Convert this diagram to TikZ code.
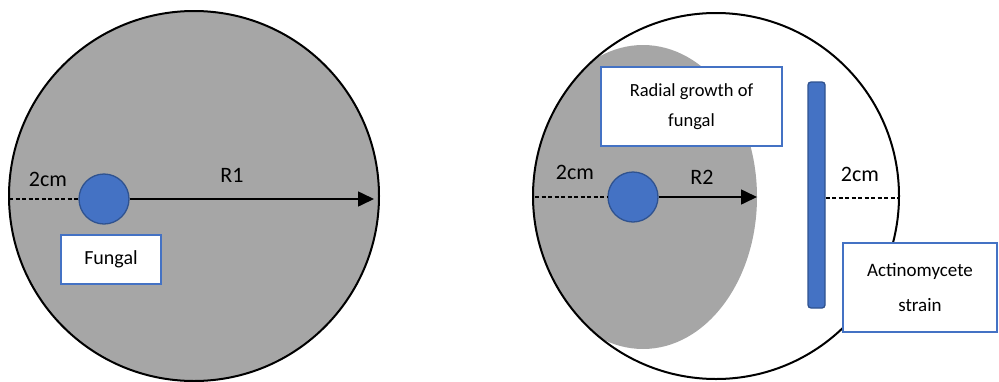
\documentclass[tikz,border=0pt]{standalone}
\usepackage{fontspec}
\setmainfont{Carlito}
\usepackage{xcolor}
\usepackage{tikz}
\usetikzlibrary{arrows.meta, positioning}

\definecolor{dishgray}{HTML}{A6A6A6}
\definecolor{plugblue}{HTML}{4472C4}
\definecolor{plugedge}{HTML}{2F528F}

\tikzset{
  dish/.style={line width=2pt},
  plug/.style={circle, fill=plugblue, draw=plugedge, line width=1.3pt, minimum size=50pt, inner sep=0pt},
  labelbox/.style={rectangle, fill=white, draw=plugblue, line width=1.8pt, align=center, inner sep=0pt},
  gap/.style={dashed, dash pattern=on 4pt off 2.5pt, line width=1.3pt},
  radius/.style={->, line width=1.6pt},
  big/.style={font=\fontsize{22}{26}\selectfont}
}

\begin{document}
\begin{tikzpicture}[x=1pt, y=-1pt, >={Triangle[length=16pt, width=15pt]}]
    \useasboundingbox (0,0) rectangle (999,381);
    \clip (0,0) rectangle (999,381);

    % control plate
    \draw[dish, fill=dishgray] (194,196) circle (185);
    \coordinate (edge1) at (9,199);
    \coordinate (tip1) at (374,199);
    \node[plug] (fungus1) at (104,199) {};
    \draw[gap] (edge1) -- (fungus1.west);
    \draw[radius] (fungus1.east) -- (tip1);
    \node[big] (gap1) at (48,179) {2cm};
    \node[big] (r1) at (232,175) {R1};
    \node[labelbox, minimum width=100pt, minimum height=49pt, font=\fontsize{20}{24}\selectfont] (fungal) at (111,259.5) {Fungal};

    % dual culture plate
    \begin{scope}
      \clip (716,196) circle (183);
      \fill[dishgray] (643,197) ellipse [x radius=114, y radius=152];
    \end{scope}
    \draw[dish] (716,196) circle (183);

    \coordinate (edge2) at (535,197);
    \coordinate (tip2) at (757,197);
    \node[plug] (fungus2) at (633,197) {};
    \draw[gap] (edge2) -- (fungus2.west);
    \draw[radius] (fungus2.east) -- (tip2);
    \node[big] (gap2) at (575,172) {2cm};
    \node[big] (r2) at (702,177) {R2};

    \node[rectangle, rounded corners=3pt, fill=plugblue, draw=plugedge, line width=1.3pt, minimum width=17pt, minimum height=226pt, inner sep=0pt] (strain) at (816.5,195) {};
    \coordinate (edge3) at (898,198);
    \draw[gap] (strain.east |- edge3) -- (edge3);
    \node[big] (gap3) at (860,174) {2cm};

    \node[labelbox, minimum width=181pt, minimum height=79pt, font=\fontsize{18.5}{30}\selectfont] (growth) at (691.5,106.5) {Radial growth of\\fungal};
    \node[labelbox, minimum width=154pt, minimum height=89pt, font=\fontsize{19}{35}\selectfont] (actino) at (920,287.5) {Actinomycete\\strain};

\end{tikzpicture}
\end{document}
